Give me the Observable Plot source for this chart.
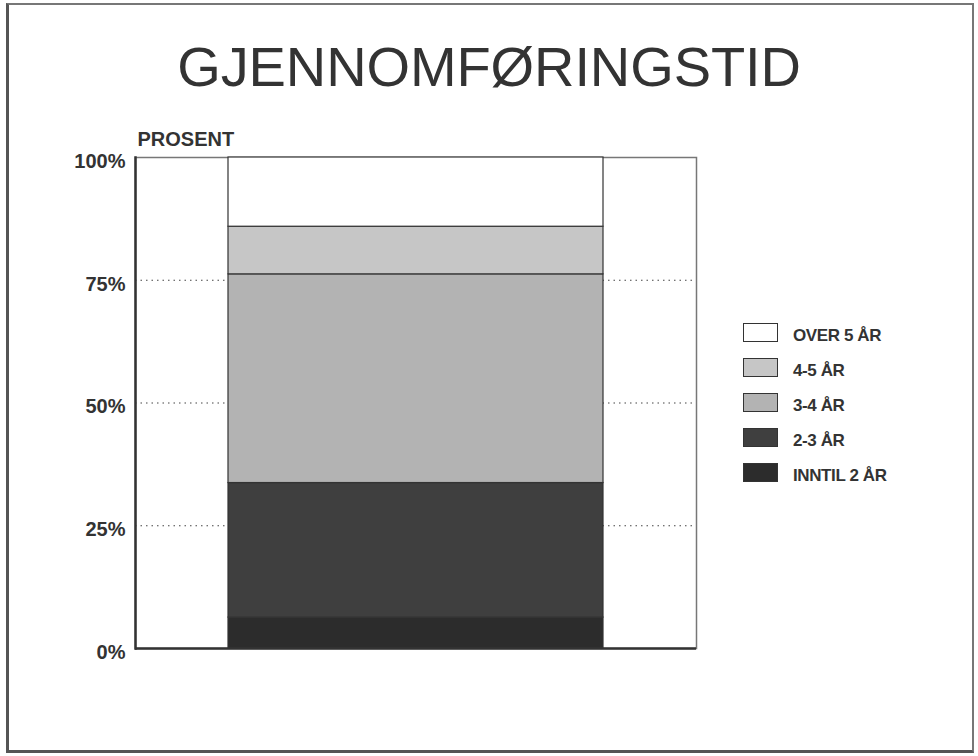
<!DOCTYPE html>
<html>
<head>
<meta charset="utf-8">
<script src="https://cdn.jsdelivr.net/npm/d3@7"></script>
<script src="https://cdn.jsdelivr.net/npm/@observablehq/plot@0.6"></script>
<style>
  html, body { margin: 0; padding: 0; background: #fff; }
  #page { position: relative; width: 978px; height: 756px; overflow: hidden; font-family: "Liberation Sans", Arial, Helvetica, sans-serif; color: #333; }
  #border { position: absolute; left: 6px; top: 3px; width: 968px; height: 750px; box-sizing: border-box; border: 2px solid #777; border-left: 3px solid #555; border-bottom: 3px solid #555; }
  #title { position: absolute; left: 0; width: 978px; top: 34px; text-align: center; font-size: 56px; font-weight: normal; color: #333; letter-spacing: -0.1px; }
  #chart { position: absolute; left: 0; top: 120px; }
  #legend { position: absolute; left: 743px; top: 323px; }
  .item { position: relative; height: 35px; }
  .sw { position: absolute; left: 0; top: 0; width: 33px; height: 17px; border: 1px solid #333; }
  .lab { position: absolute; left: 50px; top: 3px; font-size: 17px; font-weight: bold; letter-spacing: -0.4px; white-space: nowrap; color: #333; line-height: 20px; }
</style>
</head>
<body>
<div id="page">
  <div id="border"></div>
  <div id="title">GJENNOMFØRINGSTID</div>
  <div id="chart"></div>
  <div id="legend"></div>
</div>
<script>
// categories (one stacked column)
const categories = ["Alle"];
// stack groups, bottom to top
const groups = ["INNTIL 2 ÅR", "2-3 ÅR", "3-4 ÅR", "4-5 ÅR", "OVER 5 ÅR"];
// percentages
const values = [6.3, 27.4, 42.5, 9.7, 14.1];
// fills
const colors = ["#2c2c2c", "#3f3f3f", "#b3b3b3", "#c6c6c6", "#ffffff"];
// y ticks
const yTicks = [0, 25, 50, 75, 100];
const gridTicks = [25, 50, 75];
const legendOrder = ["OVER 5 ÅR", "4-5 ÅR", "3-4 ÅR", "2-3 ÅR", "INNTIL 2 ÅR"];

const data = groups.map((g, i) => ({cat: categories[0], group: g, value: values[i]}));

const chart = Plot.plot({
  width: 978,
  height: 636,
  marginLeft: 135,
  marginRight: 282,
  marginTop: 37,
  marginBottom: 108,
  style: {fontFamily: '"Liberation Sans", Arial, sans-serif', fontSize: "20px", fontWeight: "bold", color: "#333", background: "transparent"},
  x: {domain: categories, paddingInner: 0, paddingOuter: 0.248, axis: null},
  y: {domain: [0, 100], label: null, axis: null},
  color: {domain: groups, range: colors},
  marks: [
    Plot.ruleY(gridTicks, {stroke: "#444", strokeWidth: 1.2, strokeDasharray: "1.5,4"}),
    Plot.frame({stroke: "#777", strokeWidth: 1.5}),
    Plot.barY(data, {x: "cat", y: "value", fill: "group", stroke: "#333", strokeWidth: 1.2}),
    Plot.ruleY([0], {stroke: "#333", strokeWidth: 2.5}),
    Plot.frame({anchor: "left", stroke: "#333", strokeWidth: 2.5}),
    Plot.axisY(yTicks, {tickSize: 0, tickPadding: 10, dy: 4, tickFormat: d => d + "%", label: null, fontSize: 20, fontWeight: "bold", fill: "#333"}),
    Plot.text(["PROSENT"], {frameAnchor: "top-left", dx: 2, dy: -26, textAnchor: "start", fontSize: 20, fontWeight: "bold", fill: "#333", letterSpacing: "-0.3px"})
  ]
});
document.getElementById("chart").appendChild(chart);

const legend = document.getElementById("legend");
legendOrder.forEach(g => {
  const item = document.createElement("div");
  item.className = "item";
  const sw = document.createElement("div");
  sw.className = "sw";
  sw.style.background = colors[groups.indexOf(g)];
  const lab = document.createElement("div");
  lab.className = "lab";
  lab.textContent = g;
  item.appendChild(sw);
  item.appendChild(lab);
  legend.appendChild(item);
});
</script>
</body>
</html>
